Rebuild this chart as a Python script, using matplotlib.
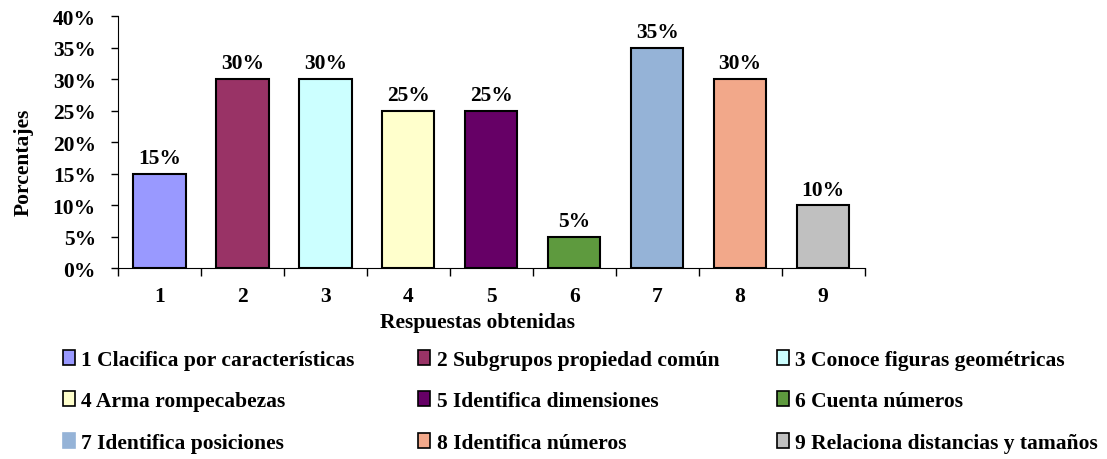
import numpy as np
import matplotlib.pyplot as plt
from matplotlib.patches import Patch

categorias = ["1", "2", "3", "4", "5", "6", "7", "8", "9"]
porcentajes = [15, 30, 30, 25, 25, 5, 35, 30, 10]
etiquetas = ["1 Clacifica por características", "2 Subgrupos propiedad común",
             "3 Conoce figuras geométricas", "4 Arma rompecabezas",
             "5 Identifica dimensiones", "6 Cuenta números",
             "7 Identifica posiciones", "8 Identifica números",
             "9 Relaciona distancias y tamaños"]
colores = ["#9999FF", "#993366", "#CCFFFF", "#FFFFCC", "#660066",
           "#5E9A3E", "#95B3D7", "#F2A88A", "#C0C0C0"]

plt.rcParams["font.family"] = ["Liberation Serif", "DejaVu Serif"]
plt.rcParams["font.weight"] = "bold"
fs = 15.5

fig = plt.figure(figsize=(11.07, 4.6), dpi=100)
ax = fig.add_axes([0.1066, 0.415, 0.6744, 0.548])

x = np.arange(len(categorias))
ax.bar(x, porcentajes, width=0.63, color=colores, edgecolor="black", linewidth=1.5)
for xi, v in zip(x, porcentajes):
    ax.annotate(f"{v}%", (xi, v), xytext=(0, 4), textcoords="offset points",
                ha="center", va="bottom", fontsize=fs, fontweight="bold")

ax.set_xlim(-0.5, len(categorias) - 0.5)
ax.set_ylim(0, 40)
ax.set_yticks(range(0, 41, 5))
ax.set_yticklabels([f"{t}%" for t in range(0, 41, 5)], fontsize=fs, fontweight="bold")
ax.set_xticks(x)
ax.set_xticklabels(categorias, fontsize=fs, fontweight="bold")
ax.set_xticks(np.arange(-0.5, len(categorias), 1), minor=True)
ax.tick_params(axis="x", which="major", length=0, pad=13)
ax.tick_params(axis="x", which="minor", length=6, width=1, direction="out")
ax.tick_params(axis="y", length=5, width=1, direction="out", pad=11)
ax.spines["top"].set_visible(False)
ax.spines["right"].set_visible(False)
ax.set_xlabel("Respuestas obtenidas", fontsize=fs, fontweight="bold")
ax.xaxis.set_label_coords(0.482, -0.214)
ax.xaxis.label.set_va("center")
ax.set_ylabel("Porcentajes", fontsize=fs, fontweight="bold")
ax.yaxis.set_label_coords(-0.127, 0.425)
ax.yaxis.label.set_va("center")

handles = []
for i, (c, lab) in enumerate(zip(colores, etiquetas)):
    ec = c if i == 6 else "black"
    handles.append(Patch(facecolor=c, edgecolor=ec, linewidth=1.2, label=lab))

# one legend per column, rows filled left to right
col_x = [0.057, 0.378, 0.702]
for col in range(3):
    idx = [col, col + 3, col + 6]
    leg = fig.legend([handles[i] for i in idx], [etiquetas[i] for i in idx],
                     loc="upper left", bbox_to_anchor=(col_x[col], 0.238),
                     frameon=False, fontsize=fs, handlelength=0.55, handleheight=0.7,
                     handletextpad=0.3, labelspacing=1.0, borderpad=0, borderaxespad=0)

fig.savefig("out.png", dpi=100)
